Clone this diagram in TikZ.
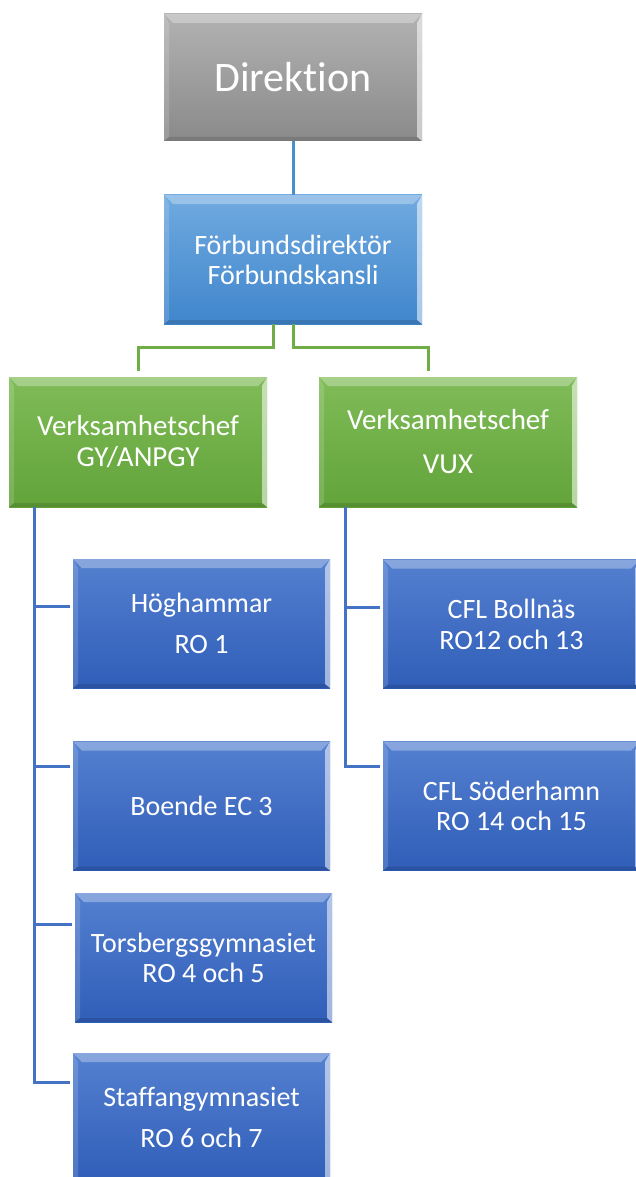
\documentclass[tikz,border=0pt]{standalone}
\usepackage{fontspec}
\setmainfont{Carlito}[Ligatures={CommonOff}]
\definecolor{grayT}{RGB}{178,178,178}
\definecolor{grayB}{RGB}{138,138,138}
\definecolor{lblueT}{RGB}{112,170,224}
\definecolor{lblueB}{RGB}{64,134,204}
\definecolor{greenT}{RGB}{128,188,88}
\definecolor{greenB}{RGB}{98,163,58}
\definecolor{dblueT}{RGB}{84,128,208}
\definecolor{dblueB}{RGB}{48,94,184}
\definecolor{lineD}{RGB}{74,144,200}
\definecolor{lineG}{RGB}{112,173,71}
\definecolor{lineB}{RGB}{68,114,196}
\tikzset{
  bevelbox/.style 2 args={rectangle, inner sep=0pt, text=white, align=center,
    path picture={
      \coordinate (SW) at (path picture bounding box.south west);
      \coordinate (NE) at (path picture bounding box.north east);
      \coordinate (NW) at (path picture bounding box.north west);
      \coordinate (SE) at (path picture bounding box.south east);
      \shade[top color=#1, bottom color=#2] (SW) rectangle (NE);
      \fill[white, opacity=0.30] (NW) -- (NE) -- ([shift={(-9pt,-9pt)}]NE) -- ([shift={(9pt,-9pt)}]NW) -- cycle;
      \fill[white, opacity=0.55] (NE) -- (SE) -- ([shift={(-5pt,4pt)}]SE) -- ([shift={(-5pt,-9pt)}]NE) -- cycle;
      \fill[white, opacity=0.15] (NW) -- (SW) -- ([shift={(5pt,4pt)}]SW) -- ([shift={(5pt,-9pt)}]NW) -- cycle;
      \fill[black, opacity=0.12] (SW) -- (SE) -- ([shift={(-5pt,4pt)}]SE) -- ([shift={(5pt,4pt)}]SW) -- cycle;
    }},
  graybox/.style={bevelbox={grayT}{grayB}, minimum width=258pt, minimum height=127pt},
  lbluebox/.style={bevelbox={lblueT}{lblueB}, minimum width=258pt, minimum height=129pt},
  greenbox/.style={bevelbox={greenT}{greenB}, minimum width=258pt, minimum height=130pt},
  dbluebox/.style={bevelbox={dblueT}{dblueB}, minimum width=257pt, minimum height=129pt},
  dline/.style={draw=lineD, line width=3pt},
  gline/.style={draw=lineG, line width=3pt},
  bline/.style={draw=lineB, line width=3pt},
}
\begin{document}
\begin{tikzpicture}[x=1pt,y=-1pt]
\fill[white] (0,0) rectangle (635,1177);
\useasboundingbox (0,0) rectangle (635,1177);

\node[graybox, font=\fontsize{42}{48}\selectfont] (dir) at (293,77.5) {Direktion};
\node[lbluebox, font=\fontsize{28}{30}\selectfont] (fd) at (293,259.5) {Förbundsdirektör\\Förbundskansli};
\node[greenbox, font=\fontsize{29}{31}\selectfont] (g1) at (138,442) {Verksamhetschef\\GY/ANPGY};
\node[greenbox, font=\fontsize{29}{44}\selectfont] (g2) at (448,442) {Verksamhetschef\\VUX};

\node[dbluebox, font=\fontsize{28}{41}\selectfont] (b1) at (201.5,623.5) {Höghammar\\RO 1};
\node[dbluebox, font=\fontsize{28}{30}\selectfont] (b2) at (201.5,806) {Boende EC 3};
\node[dbluebox, font=\fontsize{28}{30}\selectfont] (b3) at (203.5,957.5) {Torsbergsgymnasiet\\RO 4 och 5};
\node[dbluebox, font=\fontsize{28}{41}\selectfont] (b4) at (201.5,1117.5) {Staffangymnasiet\\RO 6 och 7};

\node[dbluebox, font=\fontsize{28}{31}\selectfont] (c1) at (511.5,624) {CFL Bollnäs\\RO12 och 13};
\node[dbluebox, font=\fontsize{28}{30}\selectfont] (c2) at (511.5,806) {CFL Söderhamn\\RO 14 och 15};

% connectors
\draw[dline] (dir.south) -- (fd.north);
\draw[gline] ([xshift=-20pt]fd.south) -- ++(0,23) -| ([yshift=6pt]g1.north);
\draw[gline] (fd.south) -- ++(0,23) -| ([xshift=-20pt,yshift=6pt]g2.north);

\coordinate (t1) at ([xshift=26pt]g1.south west);
\coordinate (h1) at ([xshift=-3pt,yshift=-48pt]b1.north west);
\coordinate (h2) at ([xshift=-3pt,yshift=-25pt]b2.north west);
\coordinate (h3) at ([xshift=-3pt,yshift=-32pt]b3.north west);
\coordinate (h4) at ([xshift=-3pt,yshift=-30pt]b4.north west);
\draw[bline] (t1) |- (h4);
\draw[bline] (t1 |- h1) -- (h1);
\draw[bline] (t1 |- h2) -- (h2);
\draw[bline] (t1 |- h3) -- (h3);

\coordinate (t2) at ([xshift=27pt]g2.south west);
\coordinate (k1) at ([xshift=-3pt,yshift=-48pt]c1.north west);
\coordinate (k2) at ([xshift=-3pt,yshift=-25pt]c2.north west);
\draw[bline] (t2) |- (k2);
\draw[bline] (t2 |- k1) -- (k1);
\end{tikzpicture}
\end{document}
